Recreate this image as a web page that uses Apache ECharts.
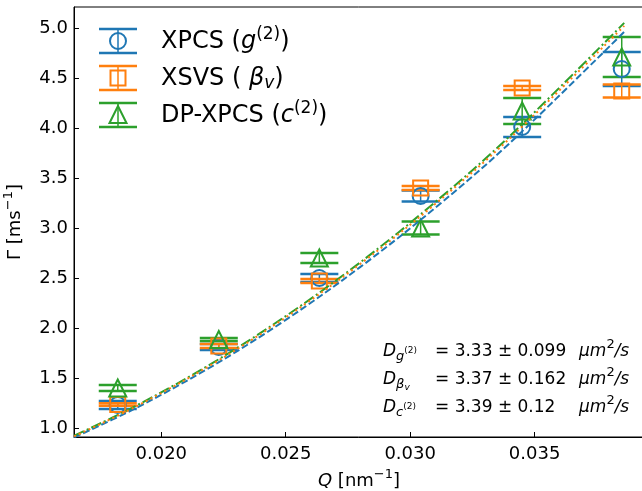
<!DOCTYPE html>
<html>
<head>
<meta charset="utf-8">
<script src="https://cdn.jsdelivr.net/npm/echarts@6/dist/echarts.min.js"></script>
<style>
  html, body { margin: 0; padding: 0; background: #fff; }
  #chart { width: 642px; height: 491px; }
</style>
</head>
<body>
<div id="chart"></div>
<script>
// measured points
const qValues = [0.01825, 0.02231, 0.02635, 0.03042, 0.03450, 0.03850]
const g2Gamma = [1.23, 1.81, 2.50, 3.32, 4.01, 4.59]
const g2Err = [0.04, 0.03, 0.04, 0.055, 0.10, 0.17]
const betaGamma = [1.235, 1.82, 2.47, 3.40, 4.40, 4.37]
const betaErr = [0.012, 0.02, 0.02, 0.02, 0.02, 0.065]
const c2Gamma = [1.40, 1.885, 2.70, 3.00, 4.17, 4.71]
const c2Err = [0.03, 0.015, 0.05, 0.065, 0.13, 0.20]

// fitted curves (Gamma = D Q^2)
const fitQ = [0.0165, 0.019, 0.022, 0.025, 0.028, 0.031, 0.034, 0.0386]
const fitG2 = [0.907, 1.202, 1.612, 2.081, 2.611, 3.200, 3.849, 4.962]
const fitBeta = [0.917, 1.217, 1.631, 2.106, 2.642, 3.239, 3.896, 5.021]
const fitC2 = [0.923, 1.224, 1.641, 2.119, 2.658, 3.258, 3.919, 5.051]

const xTicks = [0.020, 0.025, 0.030, 0.035]
const yTicks = [1.0, 1.5, 2.0, 2.5, 3.0, 3.5, 4.0, 4.5, 5.0]

const BLUE = "#1f77b4"
const ORANGE = "#ff7f0e"
const GREEN = "#2ca02c"
const FONT = "DejaVu Sans"

const zip = (xs, ys) => xs.map((x, i) => [x, ys[i]])

const errorSeries = (name, color, vals, errs) => ({
  type: "custom",
  name: name,
  data: qValues.map((q, i) => [q, vals[i], errs[i]]),
  encode: { x: 0, y: 1 },
  z: 3,
  renderItem: (params, api) => {
    const x = api.value(0), y = api.value(1), e = api.value(2)
    const top = api.coord([x, y + e])
    const bot = api.coord([x, y - e])
    const half = 19
    const cap = { stroke: color, lineWidth: 2.5 }
    return {
      type: "group",
      children: [
        { type: "line", shape: { x1: top[0], y1: top[1], x2: bot[0], y2: bot[1] }, style: { stroke: color, lineWidth: 1.5 } },
        { type: "line", shape: { x1: top[0] - half, y1: top[1], x2: top[0] + half, y2: top[1] }, style: cap },
        { type: "line", shape: { x1: bot[0] - half, y1: bot[1], x2: bot[0] + half, y2: bot[1] }, style: cap }
      ]
    }
  }
})

const markerSeries = (color, symbol, size, vals) => ({
  type: "scatter",
  data: zip(qValues, vals),
  symbol: symbol,
  symbolSize: size,
  z: 4,
  itemStyle: { color: "rgba(0,0,0,0)", borderColor: color, borderWidth: 2, opacity: 1 }
})

const fitSeries = (color, dash, vals, z) => ({
  type: "line",
  data: zip(fitQ, vals),
  showSymbol: false,
  smooth: 0.35,
  z: z,
  lineStyle: { color: color, width: 2, type: dash }
})

// rich text helpers
const richStyles = (size, lh, small, tiny) => ({
  n: { fontFamily: FONT, fontSize: size, height: lh, lineHeight: lh, color: "#000" },
  i: { fontFamily: FONT, fontSize: size, fontStyle: "italic", height: lh, lineHeight: lh, color: "#000" },
  sup: { fontFamily: FONT, fontSize: small, verticalAlign: "top", height: lh - 14, lineHeight: lh - 14, color: "#000" },
  isub: { fontFamily: FONT, fontSize: small, fontStyle: "italic", verticalAlign: "bottom", height: lh - 9, lineHeight: lh - 9, color: "#000" },
  ss: { fontFamily: FONT, fontSize: tiny, verticalAlign: "top", height: lh - 3, lineHeight: lh - 3, color: "#000" },
  issub: { fontFamily: FONT, fontSize: tiny, fontStyle: "italic", verticalAlign: "bottom", height: lh - 16, lineHeight: lh - 16, color: "#000" }
})

const legendRich = richStyles(24, 32, 17, 11)
const noteRich = richStyles(17, 26, 13, 9)

const legendEntry = (cy, color, marker, label) => {
  const cx = 118, half = 19, dy = 12
  const cap = { stroke: color, lineWidth: 2.5 }
  return [
    { type: "line", shape: { x1: cx, y1: cy - dy, x2: cx, y2: cy + dy }, style: { stroke: color, lineWidth: 1.5 } },
    { type: "line", shape: { x1: cx - half, y1: cy - dy, x2: cx + half, y2: cy - dy }, style: cap },
    { type: "line", shape: { x1: cx - half, y1: cy + dy, x2: cx + half, y2: cy + dy }, style: cap },
    marker(cx, cy),
    {
      type: "text", x: 161, y: cy + 1,
      style: { text: label, rich: legendRich, verticalAlign: "middle", align: "left" }
    }
  ]
}

const openStyle = (color) => ({ fill: "none", stroke: color, lineWidth: 2 })

const legendGraphics = [].concat(
  legendEntry(41, BLUE, (cx, cy) => ({ type: "circle", shape: { cx: cx, cy: cy, r: 8 }, style: openStyle(BLUE) }),
    "{n|XPCS (}{i|g}{sup|(2)}{n|)}"),
  legendEntry(78, ORANGE, (cx, cy) => ({ type: "rect", shape: { x: cx - 7.5, y: cy - 7.5, width: 15, height: 15 }, style: openStyle(ORANGE) }),
    "{n|XSVS ( }{i|β}{isub|v}{n|)}"),
  legendEntry(115, GREEN, (cx, cy) => ({ type: "polygon", shape: { points: [[cx, cy - 9], [cx - 8.5, cy + 8], [cx + 8.5, cy + 8]] }, style: openStyle(GREEN) }),
    "{n|DP-XPCS (}{i|c}{sup|(2)}{n|)}")
)

const noteLines = [
  ["{i|D}{isub|g}{ss|(2)}", "{n|= 3.33 ± 0.099}"],
  ["{i|D}{isub|β}{issub|v}", "{n|= 3.37 ± 0.162}"],
  ["{i|D}{isub|c}{ss|(2)}", "{n|= 3.39 ± 0.12}"]
]
const noteY = [352, 380, 408]
const noteGraphics = []
noteLines.forEach((parts, k) => {
  noteGraphics.push({ type: "text", x: 383, y: noteY[k], style: { text: parts[0], rich: noteRich, verticalAlign: "middle" } })
  noteGraphics.push({ type: "text", x: 435, y: noteY[k], style: { text: parts[1], rich: noteRich, verticalAlign: "middle" } })
  noteGraphics.push({ type: "text", x: 579, y: noteY[k], style: { text: "{i|μm}{sup|2}{i|/s}", rich: noteRich, verticalAlign: "middle" } })
})

const myChart = echarts.init(document.getElementById("chart"))

myChart.setOption({
  animation: false,
  backgroundColor: "#fff",
  grid: {
    left: 74, right: -2, top: 7, bottom: 54,
    outerBoundsMode: "none",
    containLabel: false,
    show: true, borderColor: "#000", borderWidth: 1, backgroundColor: "transparent"
  },
  xAxis: {
    type: "value",
    min: 0.016492,
    max: 0.039395,
    name: "{i|Q}{n| [nm}{sup|−1}{n|]}",
    nameLocation: "middle",
    nameGap: 23,
    nameTextStyle: { rich: richStyles(18, 26, 13, 9) },
    axisLine: { show: true, onZero: false, lineStyle: { color: "#000", width: 1 } },
    axisTick: { show: true, inside: true, length: 5, customValues: xTicks, lineStyle: { color: "#000", width: 1 } },
    axisLabel: {
      customValues: xTicks, formatter: (v) => v.toFixed(3),
      fontFamily: FONT, fontSize: 18, color: "#000", margin: 8
    },
    splitLine: { show: false }
  },
  yAxis: {
    type: "value",
    min: 0.91,
    max: 5.21,
    name: "{n|Γ [ms}{sup|−1}{n|]}",
    nameLocation: "middle",
    nameGap: 45,
    nameRotate: 90,
    nameTextStyle: { rich: richStyles(18, 26, 13, 9) },
    axisLine: { show: true, onZero: false, lineStyle: { color: "#000", width: 1 } },
    axisTick: { show: true, inside: true, length: 5, customValues: yTicks, lineStyle: { color: "#000", width: 1 } },
    axisLabel: {
      customValues: yTicks, formatter: (v) => v.toFixed(1),
      fontFamily: FONT, fontSize: 18, color: "#000", margin: 6
    },
    splitLine: { show: false }
  },
  series: [
    errorSeries("XPCS", BLUE, g2Gamma, g2Err),
    markerSeries(BLUE, "circle", 16, g2Gamma),
    errorSeries("XSVS", ORANGE, betaGamma, betaErr),
    markerSeries(ORANGE, "rect", 15, betaGamma),
    errorSeries("DP-XPCS", GREEN, c2Gamma, c2Err),
    markerSeries(GREEN, "triangle", 17, c2Gamma),
    fitSeries(BLUE, [7, 3], fitG2, 5),
    fitSeries(GREEN, [11, 3, 2, 3], fitC2, 6),
    fitSeries(ORANGE, [2, 3.3], fitBeta, 7)
  ],
  graphic: legendGraphics.concat(noteGraphics)
})

window.addEventListener("resize", () => {
  myChart.resize()
})
</script>
</body>
</html>
